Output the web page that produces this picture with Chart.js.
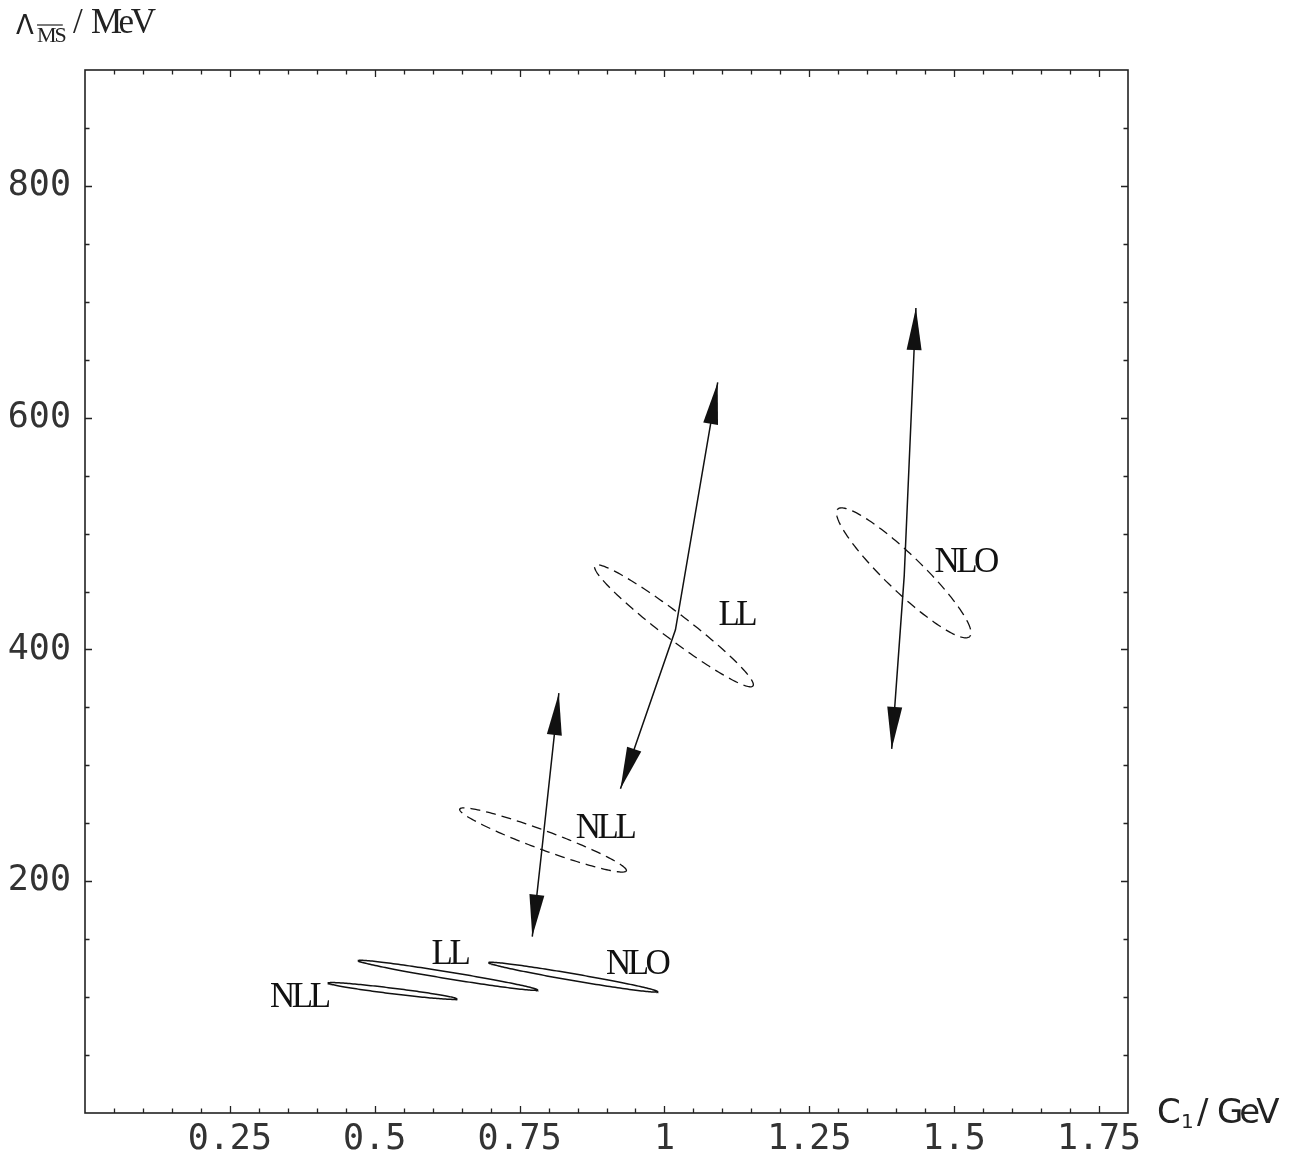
<!DOCTYPE html>
<html>
<head>
<meta charset="utf-8">
<script src="https://cdn.jsdelivr.net/npm/chart.js@4"></script>
<style>
html,body{margin:0;padding:0;background:#fff;}
#wrap{position:relative;width:1299px;height:1161px;}
canvas{display:block;}
</style>
</head>
<body>
<div id="wrap"><canvas id="c" width="1299" height="1161"></canvas></div>
<script>
// ---- axis ticks ----
const xMajorTicks = [0.25, 0.5, 0.75, 1, 1.25, 1.5, 1.75];
const xTickLabels = ['0.25', '0.5', '0.75', '1', '1.25', '1.5', '1.75'];
const yMajorTicks = [200, 400, 600, 800];
const yTickLabels = ['200', '400', '600', '800'];
const xMinorStep = 0.05;
const yMinorStep = 50;

// ---- ellipses (centre, semi-major vector, semi-minor vector, in data units) ----
const ellipseNames   = ['NLL solid', 'LL solid', 'NLO solid', 'NLL dashed', 'LL dashed', 'NLO dashed'];
const ellipseCX      = [0.5307, 0.6264, 0.8428, 0.7905, 1.0164, 1.4130];
const ellipseCY      = [105.3, 118.8, 117.2, 235.6, 420.4, 466.1];
const ellipseMajorDX = [0.1112, 0.1548, 0.1457, 0.1438, 0.1364, 0.1140];
const ellipseMajorDY = [-6.85, -12.65, -12.52, -26.6, -51.9, -54.9];
const ellipseMinorDX = [-0.00060, -0.00095, -0.00100, -0.00560, -0.01334, -0.02195];
const ellipseMinorDY = [-2.40, -2.90, -2.90, -7.70, -8.80, -11.41];
const ellipseDashed  = [false, false, false, true, true, true];

// ---- arrows (upper tip, middle, lower tip) ----
const arrowNames   = ['NLL', 'LL', 'NLO'];
const arrowTopX    = [0.8178, 1.0919, 1.4340];
const arrowTopY    = [362.3, 630.4, 694.6];
const arrowMidX    = [0.7903, 1.0190, 1.4138];
const arrowMidY    = [235.6, 416.9, 463.5];
const arrowBottomX = [0.7719, 0.9241, 1.3922];
const arrowBottomY = [152.2, 279.7, 314.2];

// ---- text labels ----
const labelText = ['NLL', 'LL', 'NLO', 'NLL', 'LL', 'NLO'];
const labelX    = [0.369, 0.629, 0.952, 0.8966, 1.124, 1.519];
const labelY    = [99.3, 136.4, 127.8, 245.1, 429.0, 474.8];

const INK = '#111';

function ellipsePoints(i) {
  const pts = [];
  const n = 180;
  for (let k = 0; k <= n; k++) {
    const t = 2 * Math.PI * k / n;
    pts.push({
      x: ellipseCX[i] + Math.cos(t) * ellipseMajorDX[i] + Math.sin(t) * ellipseMinorDX[i],
      y: ellipseCY[i] + Math.cos(t) * ellipseMajorDY[i] + Math.sin(t) * ellipseMinorDY[i]
    });
  }
  return pts;
}

const datasets = [];
ellipseNames.forEach((name, i) => {
  datasets.push({
    label: name,
    data: ellipsePoints(i),
    showLine: true,
    borderColor: INK,
    borderWidth: ellipseDashed[i] ? 1.3 : 1.5,
    borderDash: ellipseDashed[i] ? [10, 6] : [],
    pointRadius: 0,
    fill: false,
    tension: 0
  });
});
arrowNames.forEach((name, i) => {
  datasets.push({
    label: 'arrow ' + name,
    isArrow: true,
    data: [
      {x: arrowTopX[i], y: arrowTopY[i]},
      {x: arrowMidX[i], y: arrowMidY[i]},
      {x: arrowBottomX[i], y: arrowBottomY[i]}
    ],
    showLine: true,
    borderColor: INK,
    borderWidth: 1.5,
    pointRadius: 0,
    fill: false,
    tension: 0
  });
});

const tickFont = {family: "'DejaVu Sans Mono'", size: 35};

const framePlugin = {
  id: 'frame',
  afterDraw(chart) {
    const {ctx, chartArea: a, scales} = chart;
    const xs = scales.x, ys = scales.y;
    ctx.save();
    ctx.strokeStyle = '#222';
    ctx.lineWidth = 1.6;
    ctx.strokeRect(a.left, a.top, a.right - a.left, a.bottom - a.top);
    ctx.lineWidth = 1.3;
    const major = 7, minor = 4.5;
    ctx.beginPath();
    for (let v = xMinorStep; v < xs.max - 1e-9; v += xMinorStep) {
      const isMaj = xMajorTicks.some(m => Math.abs(m - v) < 1e-6);
      const L = isMaj ? major : minor;
      const px = Math.round(xs.getPixelForValue(v)) + 0.5;
      ctx.moveTo(px, a.bottom); ctx.lineTo(px, a.bottom - L);
      ctx.moveTo(px, a.top); ctx.lineTo(px, a.top + L);
    }
    for (let v = yMinorStep; v < ys.max - 1e-9; v += yMinorStep) {
      const isMaj = yMajorTicks.some(m => Math.abs(m - v) < 1e-6);
      const L = isMaj ? major : minor;
      const py = Math.round(ys.getPixelForValue(v)) + 0.5;
      ctx.moveTo(a.left, py); ctx.lineTo(a.left + L, py);
      ctx.moveTo(a.right, py); ctx.lineTo(a.right - L, py);
    }
    ctx.stroke();

    // arrowheads
    ctx.fillStyle = INK;
    chart.data.datasets.forEach((ds, di) => {
      if (!ds.isArrow) return;
      const pts = chart.getDatasetMeta(di).data;
      const heads = [[pts[0], pts[1]], [pts[pts.length - 1], pts[pts.length - 2]]];
      heads.forEach(([tip, prev]) => {
        const dx = tip.x - prev.x, dy = tip.y - prev.y;
        const len = Math.hypot(dx, dy);
        const ux = dx / len, uy = dy / len;
        const HL = 42, HW = 7.5;
        const bx = tip.x - ux * HL, by = tip.y - uy * HL;
        ctx.beginPath();
        ctx.moveTo(tip.x, tip.y);
        ctx.lineTo(bx - uy * HW, by + ux * HW);
        ctx.lineTo(bx + uy * HW, by - ux * HW);
        ctx.closePath();
        ctx.fill();
      });
    });

    // labels
    ctx.fillStyle = '#111';
    ctx.font = "35px 'Liberation Serif'";
    ctx.textAlign = 'center';
    ctx.textBaseline = 'middle';
    try { ctx.letterSpacing = '-3.5px'; } catch (e) {}
    labelText.forEach((t, i) => {
      ctx.fillText(t, xs.getPixelForValue(labelX[i]), ys.getPixelForValue(labelY[i]));
    });

    // axis titles
    ctx.fillStyle = '#222';
    ctx.textAlign = 'left';
    ctx.textBaseline = 'alphabetic';
    ctx.letterSpacing = '0px';
    ctx.font = "26px 'DejaVu Sans'";
    ctx.fillText('\u039B', 16, 34);
    ctx.font = "22px 'Liberation Serif'";
    ctx.letterSpacing = '-2px';
    ctx.fillText('MS', 37, 42);
    const msw = ctx.measureText('MS').width;
    ctx.lineWidth = 1.2;
    ctx.beginPath(); ctx.moveTo(37, 25); ctx.lineTo(37 + msw - 2, 25); ctx.stroke();
    ctx.font = "35px 'Liberation Serif'";
    ctx.letterSpacing = '0px';
    ctx.fillText('/', 73, 33);
    ctx.letterSpacing = '-3.5px';
    ctx.fillText('MeV', 91, 33);

    ctx.letterSpacing = '0px';
    ctx.font = "34px 'DejaVu Sans'";
    ctx.fillText('C', 1157, 1123);
    ctx.font = "20px 'DejaVu Sans'";
    ctx.fillText('1', 1181, 1128);
    ctx.font = "34px 'DejaVu Sans'";
    ctx.fillText('/', 1197, 1123);
    ctx.letterSpacing = '-4px';
    ctx.fillText('GeV', 1217, 1123);
    ctx.restore();
  }
};

new Chart(document.getElementById('c'), {
  type: 'scatter',
  data: {datasets},
  options: {
    responsive: false,
    animation: false,
    events: [],
    layout: {padding: {top: 70, right: 171, left: 0, bottom: 0}},
    plugins: {legend: {display: false}, tooltip: {enabled: false}, title: {display: false}},
    scales: {
      x: {
        type: 'linear', min: 0, max: 1.8,
        afterBuildTicks: s => { s.ticks = xMajorTicks.map(v => ({value: v})); },
        afterFit: s => { s.height = 48; },
        ticks: {
          autoSkip: false, maxRotation: 0, minRotation: 0,
          font: tickFont, color: '#333', padding: 6,
          callback: (v) => { const k = xMajorTicks.findIndex(m => Math.abs(m - v) < 1e-6); return k >= 0 ? xTickLabels[k] : ''; }
        },
        grid: {display: false, drawTicks: false},
        border: {display: false}
      },
      y: {
        type: 'linear', min: 0, max: 900,
        afterBuildTicks: s => { s.ticks = yMajorTicks.map(v => ({value: v})); },
        afterFit: s => { s.width = 85; },
        ticks: {
          autoSkip: false,
          font: tickFont, color: '#333', padding: 14,
          callback: (v) => { const k = yMajorTicks.findIndex(m => Math.abs(m - v) < 1e-6); return k >= 0 ? yTickLabels[k] : ''; }
        },
        grid: {display: false, drawTicks: false},
        border: {display: false}
      }
    }
  },
  plugins: [framePlugin]
});
</script>
</body>
</html>
